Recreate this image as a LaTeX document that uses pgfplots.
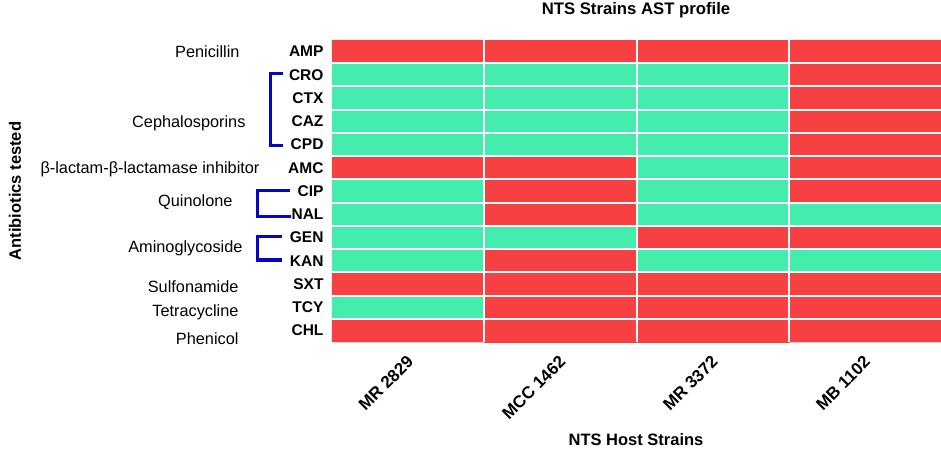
\documentclass[border=0pt]{standalone}
\usepackage{fontspec}
\setmainfont{Liberation Sans}
\usepackage{pgfplots}
\usepackage{pgfplotstable}
\pgfplotsset{compat=1.18}
\definecolor{resR}{RGB}{246,64,66}
\definecolor{susG}{RGB}{68,237,174}
\definecolor{brk}{RGB}{5,5,200}
\pgfplotstableread{
x y c
0.5 0.5 0
1.5 0.5 0
2.5 0.5 0
3.5 0.5 0
0.5 1.5 1
1.5 1.5 1
2.5 1.5 1
3.5 1.5 0
0.5 2.5 1
1.5 2.5 1
2.5 2.5 1
3.5 2.5 0
0.5 3.5 1
1.5 3.5 1
2.5 3.5 1
3.5 3.5 0
0.5 4.5 1
1.5 4.5 1
2.5 4.5 1
3.5 4.5 0
0.5 5.5 0
1.5 5.5 0
2.5 5.5 1
3.5 5.5 0
0.5 6.5 1
1.5 6.5 0
2.5 6.5 1
3.5 6.5 0
0.5 7.5 1
1.5 7.5 0
2.5 7.5 1
3.5 7.5 1
0.5 8.5 1
1.5 8.5 1
2.5 8.5 0
3.5 8.5 0
0.5 9.5 1
1.5 9.5 0
2.5 9.5 1
3.5 9.5 1
0.5 10.5 0
1.5 10.5 0
2.5 10.5 0
3.5 10.5 0
0.5 11.5 1
1.5 11.5 0
2.5 11.5 0
3.5 11.5 0
0.5 12.5 0
1.5 12.5 0
2.5 12.5 0
3.5 12.5 0
}\astdata
\begin{document}
\begin{tikzpicture}[x=1pt,y=1pt]
\path[use as bounding box] (0,0) rectangle (941,450);
\begin{axis}[
  at={(332pt,108pt)}, anchor=south west,
  scale only axis, width=609pt, height=302pt,
  xmin=0, xmax=4, ymin=0, ymax=13, y dir=reverse,
  axis on top,
  axis line style={draw=none}, tick style={draw=none},
  colormap={rg}{color=(resR) color=(susG)},
  point meta min=0, point meta max=1,
  xtick={0.5,1.5,2.5,3.5},
  xticklabels={MR 2829,MCC 1462,MR 3372,MB 1102},
  xticklabel style={font=\fontsize{17}{19}\selectfont\bfseries, rotate=45, anchor=north east, yshift=-4pt, xshift=-7pt},
  ytick={0.5,1.5,2.5,3.5,4.5,5.5,6.5,7.5,8.5,9.5,10.5,11.5,12.5},
  yticklabels={AMP,CRO,CTX,CAZ,CPD,AMC,CIP,NAL,GEN,KAN,SXT,TCY,CHL},
  yticklabel style={font=\fontsize{15.5}{17}\selectfont\bfseries, xshift=-5pt},
  extra x ticks={1,2,3}, extra x tick labels={},
  extra x tick style={grid=major, major grid style={white, line width=2pt}},
  extra y ticks={1,2,3,4,5,6,7,8,9,10,11,12}, extra y tick labels={},
  extra y tick style={grid=major, major grid style={white, line width=2pt}},
  clip=false,
]
\addplot[matrix plot*, mesh/cols=4, point meta=explicit] table[x=x, y=y, meta=c] {\astdata};
\end{axis}
% titles and axis labels
\node[font=\fontsize{16.7}{18}\selectfont\bfseries] at (636,440) {NTS Strains AST profile};
\node[font=\fontsize{16.5}{18}\selectfont\bfseries] at (636,10) {NTS Host Strains};
\node[font=\fontsize{16.5}{18}\selectfont\bfseries, rotate=90] at (15,259) {Antibiotics tested};
% group labels
\begin{scope}[every node/.style={font=\fontsize{16.3}{18}\selectfont, anchor=east}]
\node at (243,398) {Penicillin};
\node at (249,327) {Cephalosporins};
\node at (263,281) {β-lactam-β-lactamase inhibitor};
\node at (236,248) {Quinolone};
\node at (246,202) {Aminoglycoside};
\node at (242,163) {Sulfonamide};
\node at (242,138) {Tetracycline};
\node at (242,111) {Phenicol};
\end{scope}
% brackets
\draw[brk, line width=3pt] (283,376) -- (270,376) -- (270,304.5) -- (283,304.5);
\draw[brk, line width=3pt] (290,259) -- (257,259) -- (257,233.5) -- (291,233.5);
\draw[brk, line width=3pt] (282,213) -- (257,213) -- (257,190) -- (282,190);
\end{tikzpicture}
\end{document}
